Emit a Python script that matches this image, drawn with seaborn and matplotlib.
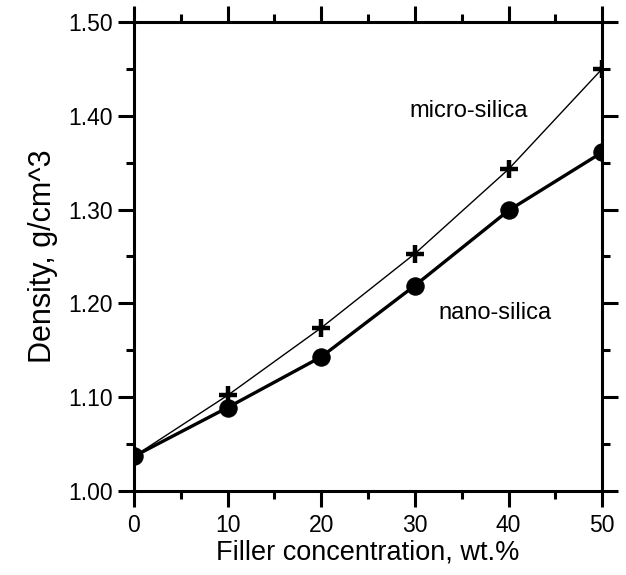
import matplotlib
matplotlib.use("Agg")
import matplotlib.pyplot as plt
import seaborn as sns
import pandas as pd
from matplotlib.ticker import MultipleLocator

filler = [0, 10, 20, 30, 40, 50]
micro_density = [1.037, 1.102, 1.174, 1.253, 1.343, 1.450]
nano_density = [1.037, 1.089, 1.143, 1.219, 1.299, 1.361]
ytick_values = [1.0, 1.1, 1.2, 1.3, 1.4, 1.5]
ytick_labels = ["1.00", "1.10", "1.20", "1.30", "1.40", "1.50"]

sns.set_theme(style="ticks")
plt.rcParams['font.family'] = ['Liberation Sans', 'DejaVu Sans']
plt.rcParams['text.color'] = 'black'
plt.rcParams['axes.labelcolor'] = 'black'
plt.rcParams['xtick.color'] = 'black'
plt.rcParams['ytick.color'] = 'black'

df_micro = pd.DataFrame({"x": filler, "y": micro_density})
df_nano = pd.DataFrame({"x": filler, "y": nano_density})

fig = plt.figure(figsize=(6.26, 5.75), dpi=100)
ax = fig.add_axes([0.214, 0.146, 0.748, 0.816])

sns.lineplot(data=df_micro, x="x", y="y", ax=ax, color="black", linewidth=1.0,
             marker="+", markersize=13, markeredgewidth=3.2, markeredgecolor="black")
sns.lineplot(data=df_nano, x="x", y="y", ax=ax, color="black", linewidth=2.4,
             marker="o", markersize=12.5, markeredgecolor="black", markerfacecolor="black")

ax.set_xlim(0, 50)
ax.set_ylim(1.00, 1.50)
ax.xaxis.set_major_locator(MultipleLocator(10))
ax.xaxis.set_minor_locator(MultipleLocator(5))
ax.yaxis.set_minor_locator(MultipleLocator(0.05))
ax.set_yticks(ytick_values)
ax.set_yticklabels(ytick_labels)

for s in ax.spines.values():
    s.set_linewidth(2.2)
    s.set_color("black")
ax.tick_params(which="both", direction="out", top=True, right=True,
               labeltop=False, labelright=False, color="black", labelcolor="black", width=2.2)
ax.tick_params(which="major", length=11.5, labelsize=16.5)
ax.tick_params(axis="y", which="major", pad=4)
ax.tick_params(axis="x", which="major", pad=5)
ax.tick_params(which="minor", length=6)

ax.set_xlabel("Filler concentration, wt.%", fontsize=19.5, labelpad=2, color="black")
ax.set_ylabel("Density, g/cm^3", fontsize=22, labelpad=7, color="black")

ax.text(35.7, 1.405, "micro-silica", fontsize=17, ha="center", va="center", color="black")
ax.text(38.6, 1.190, "nano-silica", fontsize=17, ha="center", va="center", color="black")

fig.savefig("out.png", dpi=100)
